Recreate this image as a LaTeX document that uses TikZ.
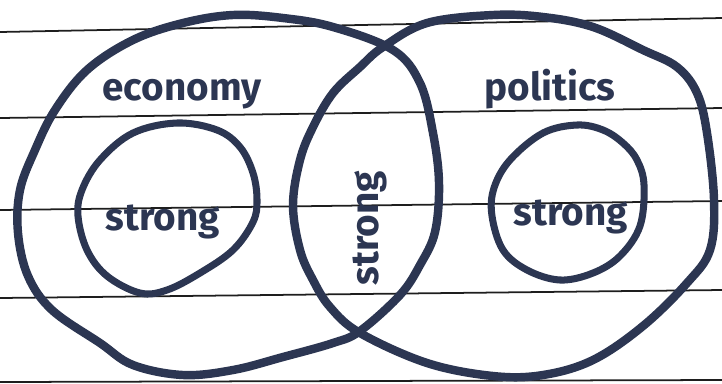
\documentclass[tikz,border=0pt]{standalone}
\usepackage{fontspec}
\newfontfamily\handfont{Fira Sans}
\usepackage{tikz}
\definecolor{ink}{RGB}{44,54,82}
\definecolor{rule}{RGB}{30,30,30}

\begin{document}
\begin{tikzpicture}[
    x=0.02cm, y=-0.02cm, % pixel grid of the photo
    bigset/.style   = {draw=ink, line width=4.8pt, line join=round},
    smallset/.style = {draw=ink, line width=4pt, line join=round},
    paperline/.style = {draw=rule, line width=1pt},
    lab/.style      = {text=ink, font=\handfont\bfseries\fontsize{22}{24}\selectfont, inner sep=0pt, anchor=base}
  ]
  \useasboundingbox (0,0) rectangle (722,383);

  % ===== ruled paper =====
  \foreach \ya/\yb in {32/18, 118/108, 210/201, 298/290, 382/380}{
    \draw[paperline] (0,\ya) -- (722,\yb);
  }

  % ===== Left set: economy =====
  \draw[bigset] plot[smooth cycle, tension=0.6] coordinates {
    (233,15) (283,18) (333,27) (393,50) (420,83) (433,133) (439,183)
    (435,232) (420,265) (400,295) (360,331) (333,343) (283,357)
    (233,370) (183,375) (133,365) (100,343) (52,310) (28,276)
    (18,233) (20,190) (35,150) (55,110) (87,70) (133,40) (183,23)};
  \draw[smallset] plot[smooth cycle, tension=0.6] coordinates {
    (100,160) (133,133) (177,123) (217,130) (240,147) (253,173) (257,200)
    (253,222) (233,250) (200,273) (167,290) (140,293) (107,276)
    (87,250) (78,216) (82,190)};

  % ===== Right set: politics =====
  \draw[bigset] plot[smooth cycle, tension=0.6] coordinates {
    (493,15) (543,17) (593,27) (643,50) (677,67) (697,93) (707,133)
    (714,200) (710,250) (687,283) (643,326) (593,360) (543,375)
    (493,376) (427,363) (360,333) (330,307) (313,280) (300,250)
    (293,205) (300,160) (313,127) (333,93) (360,67) (383,47) (427,23)};
  \draw[smallset] plot[smooth cycle, tension=0.6] coordinates {
    (510,160) (543,133) (577,125) (603,130) (623,143) (637,160) (644,185)
    (640,226) (620,256) (593,273) (560,280) (527,270) (503,250)
    (492,216) (494,188)};

  % ===== labels =====
  \node[lab] (econ) at (182,100) {economy};
  \node[lab] (poli) at (550,100) {politics};
  \node[lab] (strongL) at (163,230) {strong};
  \node[lab] (strongR) at (571,225) {strong};
  \node[lab, rotate=90] (strongM) at (378,228) {strong};

\end{tikzpicture}
\end{document}
